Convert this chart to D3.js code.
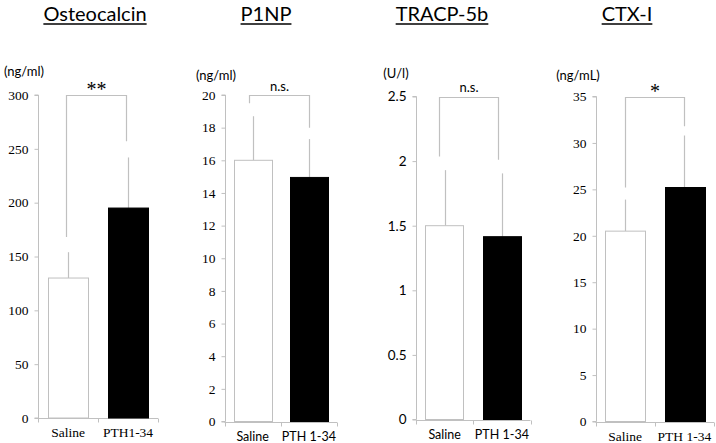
<!DOCTYPE html>
<html><head><meta charset="utf-8">
<script src="https://cdn.jsdelivr.net/npm/d3@7"></script>
<style>html,body{margin:0;padding:0;background:#fff;}svg{display:block;}</style>
</head><body>
<svg id="chart" width="716" height="443"></svg>
<script>
// ---- data ----
const titles = ["Osteocalcin", "P1NP", "TRACP-5b", "CTX-I"];
const units = ["(ng/ml)", "(ng/ml)", "(U/l)", "(ng/mL)"];
const osteoCategories = ["Saline", "PTH1-34"];
const p1npCategories = ["Saline", "PTH 1-34"];
const tracpCategories = ["Saline", "PTH 1-34"];
const ctxCategories = ["Saline", "PTH 1-34"];
const osteoMeans = [130, 195];
const osteoErrors = [24, 47];
const p1npMeans = [16.0, 14.95];
const p1npErrors = [2.7, 2.35];
const tracpMeans = [1.5, 1.415];
const tracpErrors = [0.43, 0.49];
const ctxMeans = [20.5, 25.2];
const ctxErrors = [3.4, 5.6];
const osteoTicks = [0, 50, 100, 150, 200, 250, 300];
const p1npTicks = [0, 2, 4, 6, 8, 10, 12, 14, 16, 18, 20];
const tracpTicks = [0, 0.5, 1, 1.5, 2, 2.5];
const ctxTicks = [0, 5, 10, 15, 20, 25, 30, 35];
const significance = ["**", "n.s.", "n.s.", "*"];
// bracket leg end values [left, right]
const osteoBracket = [168, 257];
const p1npBracket = [19.5, 18.0];
const tracpBracket = [2.035, 2.01];
const ctxBracket = [25.2, 31.8];

// ---- layout / style ----
const serif = "'Liberation Serif', 'Times New Roman', serif";
const sans = "Lato, 'Open Sans', sans-serif";
const gray = "#c0c0c0";
const panels = [
  {cats: osteoCategories, means: osteoMeans, errs: osteoErrors, ticks: osteoTicks, bracket: osteoBracket,
   x0: 38, x1: 158, yTop: 95, yBot: 418, tickFont: serif, catFont: serif, catSize: 13.5, legOff: [-2, -2],
   titleX: 95, unitX: 24, unitY: 76, sigY: 96, sigFont: serif, sigSize: 20, fmt: d => d},
  {cats: p1npCategories, means: p1npMeans, errs: p1npErrors, ticks: p1npTicks, bracket: p1npBracket,
   x0: 224.5, x1: 337, yTop: 95, yBot: 421.5, tickFont: serif, catFont: sans, catSize: 12.5, legOff: [-4, 0.5],
   titleX: 266, unitX: 216, unitY: 80, sigY: 91, sigFont: sans, sigSize: 13, fmt: d => d},
  {cats: tracpCategories, means: tracpMeans, errs: tracpErrors, ticks: tracpTicks, bracket: tracpBracket,
   x0: 416, x1: 530.5, yTop: 96.5, yBot: 419.5, tickFont: sans, catFont: sans, catSize: 12.5, legOff: [-6, -4],
   titleX: 442, unitX: 396, unitY: 78, sigY: 92, sigFont: sans, sigSize: 13, fmt: d => String(d)},
  {cats: ctxCategories, means: ctxMeans, errs: ctxErrors, ticks: ctxTicks, bracket: ctxBracket,
   x0: 595.5, x1: 714, yTop: 96.5, yBot: 421.5, tickFont: serif, catFont: serif, catSize: 13.5, legOff: [0, 0],
   titleX: 627, unitX: 578, unitY: 80, sigY: 98, sigFont: serif, sigSize: 20, fmt: d => d}
];
const fills = ["#ffffff", "#000000"];

const svg = d3.select("#chart");

panels.forEach((p, i) => {
  const g = svg.append("g");
  const y = d3.scaleLinear().domain([0, d3.max(p.ticks)]).range([p.yBot, p.yTop]);
  const x = d3.scaleBand().domain(p.cats).range([p.x0, p.x1]).paddingInner(0).paddingOuter(0);
  const bw = x.bandwidth() * 0.67;

  // title with underline
  const t = g.append("text").attr("x", p.titleX).attr("y", 21)
    .attr("text-anchor", "middle").attr("font-family", sans).attr("font-size", 20)
    .attr("fill", "#000").text(titles[i]);
  const tw = t.node().getComputedTextLength();
  g.append("line").attr("x1", p.titleX - tw / 2).attr("x2", p.titleX + tw / 2)
    .attr("y1", 24).attr("y2", 24).attr("stroke", "#000").attr("stroke-width", 1.3);

  // unit label
  g.append("text").attr("x", p.unitX).attr("y", p.unitY).attr("text-anchor", "middle")
    .attr("font-family", sans).attr("font-size", 13).attr("fill", "#000").text(units[i]);

  // y axis
  const yAxis = d3.axisLeft(y).tickValues(p.ticks).tickSize(4).tickPadding(6).tickFormat(p.fmt);
  const ya = g.append("g").attr("transform", `translate(${Math.round(p.x0) + 0.5},0)`).call(yAxis);
  ya.select(".domain").attr("stroke", gray).attr("d", `M-4,${y(0)}H0V${y(d3.max(p.ticks))}H-4`);
  ya.selectAll(".tick line").attr("stroke", gray);
  ya.selectAll(".tick text").attr("font-family", p.tickFont).attr("font-size", 13.5).attr("fill", "#000");

  // x axis
  const xa = g.append("g").attr("transform", `translate(0,${Math.round(p.yBot) + 0.5})`);
  xa.append("line").attr("x1", p.x0).attr("x2", p.x1).attr("y1", 0).attr("y2", 0).attr("stroke", gray);
  const bounds = [p.x0, ...p.cats.map(c => x(c) + x.bandwidth())];
  xa.selectAll("line.tk").data(bounds).join("line").attr("class", "tk")
    .attr("x1", d => Math.round(d) + 0.5).attr("x2", d => Math.round(d) + 0.5)
    .attr("y1", 0).attr("y2", 4).attr("stroke", gray);
  xa.selectAll("text").data(p.cats).join("text")
    .attr("x", d => x(d) + x.bandwidth() / 2).attr("y", 18)
    .attr("text-anchor", "middle").attr("font-family", p.catFont).attr("font-size", p.catSize)
    .attr("fill", "#000").text(d => d);

  // error bars (upper only)
  g.selectAll("line.err").data(p.cats).join("line").attr("class", "err")
    .attr("x1", (d, j) => Math.round(x(d) + x.bandwidth() / 2) + 0.5)
    .attr("x2", (d, j) => Math.round(x(d) + x.bandwidth() / 2) + 0.5)
    .attr("y1", (d, j) => y(p.means[j]))
    .attr("y2", (d, j) => y(p.means[j] + p.errs[j]))
    .attr("stroke", gray).attr("stroke-width", 1.2);

  // bars
  g.selectAll("rect.bar").data(p.cats).join("rect").attr("class", "bar")
    .attr("x", d => Math.round(x(d) + (x.bandwidth() - bw) / 2) + 0.5)
    .attr("width", Math.round(bw))
    .attr("y", (d, j) => y(p.means[j]))
    .attr("height", (d, j) => y(0) - y(p.means[j]))
    .attr("fill", (d, j) => fills[j])
    .attr("stroke", (d, j) => j === 0 ? gray : "#000").attr("stroke-width", 1);

  // significance bracket
  const lx = Math.round(x(p.cats[0]) + x.bandwidth() / 2 + p.legOff[0]) + 0.5;
  const rx = Math.round(x(p.cats[1]) + x.bandwidth() / 2 + p.legOff[1]) + 0.5;
  const topY = Math.round(y(d3.max(p.ticks))) + 0.5;
  g.append("path")
    .attr("d", `M${lx},${y(p.bracket[0])}V${topY}H${rx}V${y(p.bracket[1])}`)
    .attr("fill", "none").attr("stroke", gray).attr("stroke-width", 1.2);
  g.append("text").attr("x", (lx + rx) / 2).attr("y", p.sigY).attr("text-anchor", "middle")
    .attr("font-family", p.sigFont).attr("font-size", p.sigSize).attr("fill", "#000")
    .text(significance[i]);
});
</script>
</body></html>
